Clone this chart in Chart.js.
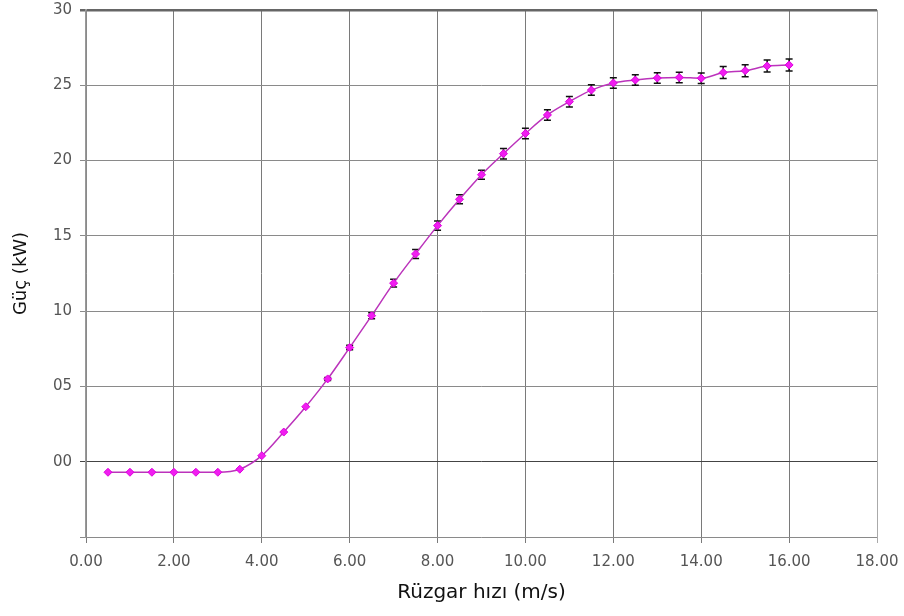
<!DOCTYPE html>
<html>
<head>
<meta charset="utf-8">
<script src="https://cdn.jsdelivr.net/npm/chart.js@4/dist/chart.umd.min.js"></script>
<style>
  html, body { margin: 0; padding: 0; background: #fff; }
  #wrap { width: 904px; height: 616px; position: relative; }
</style>
</head>
<body>
<div id="wrap"><canvas id="c" width="904" height="616"></canvas></div>
<script>
// Wind speed (m/s)
const windSpeed = [0.5, 1.0, 1.5, 2.0, 2.5, 3.0, 3.5, 4.0, 4.5, 5.0, 5.5, 6.0, 6.5, 7.0, 7.5, 8.0,
                   8.5, 9.0, 9.5, 10.0, 10.5, 11.0, 11.5, 12.0, 12.5, 13.0, 13.5, 14.0, 14.5, 15.0, 15.5, 16.0];
// Power (kW)
const power = [-0.7, -0.7, -0.7, -0.7, -0.7, -0.7, -0.5, 0.4, 1.97, 3.65, 5.5, 7.58, 9.7, 11.86, 13.8, 15.68,
               17.43, 19.06, 20.46, 21.8, 23.03, 23.91, 24.68, 25.15, 25.35, 25.48, 25.52, 25.47, 25.85, 25.97, 26.28, 26.35];
// Error (± kW)
const powerErr = [0, 0, 0, 0, 0, 0, 0, 0, 0, 0, 0.1, 0.15, 0.2, 0.25, 0.3, 0.3,
                  0.3, 0.3, 0.35, 0.35, 0.35, 0.35, 0.35, 0.35, 0.35, 0.35, 0.35, 0.35, 0.4, 0.4, 0.4, 0.4];
// Axis settings
const xTicks = [0, 2, 4, 6, 8, 10, 12, 14, 16, 18];
const yTicks = [-5, 0, 5, 10, 15, 20, 25, 30];

const points = windSpeed.map((x, i) => ({ x: x, y: power[i] }));

const errorBars = {
  id: 'errorBars',
  beforeDatasetsDraw(chart) {
    const { ctx, scales: { x, y } } = chart;
    ctx.save();
    ctx.strokeStyle = '#111';
    ctx.lineWidth = 1.5;
    windSpeed.forEach((xv, i) => {
      const e = powerErr[i];
      if (!e) return;
      const px = x.getPixelForValue(xv);
      const top = y.getPixelForValue(power[i] + e);
      const bot = y.getPixelForValue(power[i] - e);
      ctx.beginPath();
      ctx.moveTo(px, top); ctx.lineTo(px, bot);
      ctx.moveTo(px - 3.5, top); ctx.lineTo(px + 3.5, top);
      ctx.moveTo(px - 3.5, bot); ctx.lineTo(px + 3.5, bot);
      ctx.stroke();
    });
    ctx.restore();
  }
};

const tickFont = { family: "'DejaVu Sans', sans-serif", size: 15 };
const xTitleFont = { family: "'DejaVu Sans', sans-serif", size: 20 };
const yTitleFont = { family: "'DejaVu Sans', sans-serif", size: 18 };

new Chart(document.getElementById('c'), {
  type: 'line',
  data: {
    datasets: [{
      data: points,
      borderColor: '#bb33bb',
      borderWidth: 1.5,
      backgroundColor: '#ff00ff',
      pointBackgroundColor: '#f01ef0',
      pointBorderColor: '#dd00dd',
      pointBorderWidth: 1,
      pointStyle: 'rectRot',
      pointRadius: 4,
      tension: 0.3,
      cubicInterpolationMode: 'monotone',
      fill: false
    }]
  },
  options: {
    responsive: false,
    animation: false,
    devicePixelRatio: 1,
    layout: { padding: { top: 10, right: 27, left: 0, bottom: 0 } },
    plugins: { legend: { display: false }, tooltip: { enabled: false } },
    scales: {
      x: {
        type: 'linear',
        min: xTicks[0],
        max: xTicks[xTicks.length - 1],
        afterBuildTicks(scale) { scale.ticks = xTicks.map(v => ({ value: v })); },
        afterFit(scale) { scale.height = 79; scale.paddingLeft = 0; scale.paddingRight = 0; },
        ticks: {
          font: tickFont,
          color: '#555',
          padding: 10,
          maxRotation: 0,
          callback: v => Number(v).toFixed(2)
        },
        grid: {
          color: ctx => (ctx.tick && ctx.tick.value === 18) ? '#aaa' : '#7a7a7a',
          lineWidth: 1,
          tickLength: 6
        },
        border: { display: false },
        title: {
          display: true,
          text: 'Rüzgar hızı (m/s)',
          font: xTitleFont,
          color: '#111',
          padding: { top: 0, bottom: 11 }
        }
      },
      y: {
        type: 'linear',
        min: yTicks[0],
        max: yTicks[yTicks.length - 1],
        afterBuildTicks(scale) { scale.ticks = yTicks.map(v => ({ value: v })); },
        afterFit(scale) { scale.width = 86; scale.paddingTop = 0; scale.paddingBottom = 0; },
        ticks: {
          font: tickFont,
          color: '#555',
          padding: 8,
          callback: v => v < 0 ? '' : String(v).padStart(2, '0')
        },
        grid: {
          color: ctx => {
            const v = ctx.tick ? ctx.tick.value : null;
            if (v === 0) return '#444';
            if (v === 30) return '#666';
            return '#8a8a8a';
          },
          lineWidth: ctx => (ctx.tick && ctx.tick.value === 30) ? 2.5 : 1,
          tickLength: 6
        },
        border: { display: true, color: '#999', width: 1.5 },
        title: {
          display: true,
          text: 'Güç (kW)',
          font: yTitleFont,
          color: '#111',
          padding: { top: 11, bottom: 0 }
        }
      }
    }
  },
  plugins: [errorBars]
});
</script>
</body>
</html>
